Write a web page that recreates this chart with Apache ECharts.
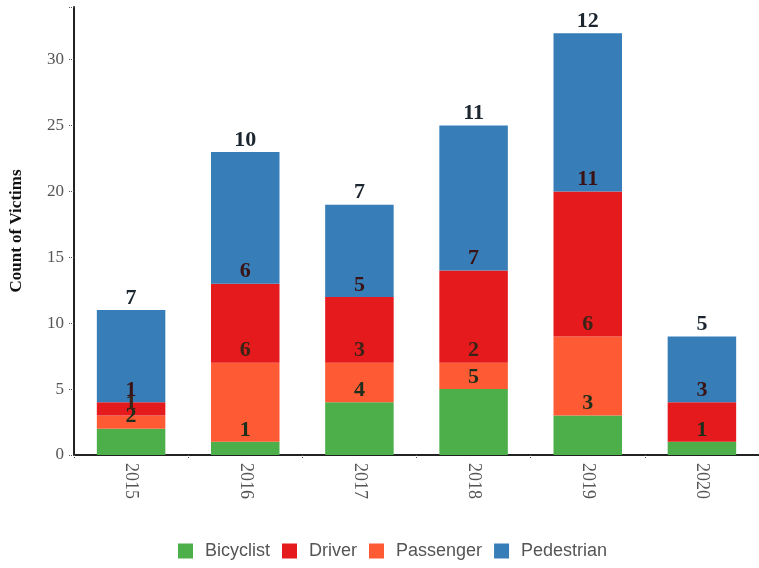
<!DOCTYPE html>
<html><head><meta charset="utf-8">
<script src="https://cdn.jsdelivr.net/npm/echarts@6/dist/echarts.min.js"></script>
<style>html,body{margin:0;padding:0;background:#fff}#c{width:759px;height:568px}</style>
</head><body><div id="c"></div>
<script>
const years = ['2015','2016','2017','2018','2019','2020'];
const bicyclist = [2, 1, 4, 5, 3, 1];
const passenger = [1, 6, 3, 2, 6, 0];
const driver = [1, 6, 5, 7, 11, 3];
const pedestrian = [7, 10, 7, 11, 12, 5];
const yTicks = [0, 5, 10, 15, 20, 25, 30];

const colors = {Bicyclist:'#4daf4a', Driver:'#e41a1c', Passenger:'#fe5a34', Pedestrian:'#377eb8'};
const labelColors = {Bicyclist:'#1c2e1c', Driver:'#3a1414', Passenger:'#3a2418', Pedestrian:'#1c2630'};

function mk(name, data){
  return {
    name, type:'bar', stack:'t', data, barWidth:'60%',
    itemStyle:{color:colors[name]},
    label:{show:true, position:'top', distance:1,
      formatter:p=>p.value===0?'':String(p.value),
      fontFamily:'Liberation Serif', fontWeight:'bold', fontSize:22,
      color:labelColors[name]}
  };
}

const chart = echarts.init(document.getElementById('c'));
chart.setOption({
  animation:false,
  grid:{left:74, right:0, top:7, bottom:113},
  legend:{
    bottom:3, left:173, itemWidth:15, itemHeight:15, itemGap:12,
    icon:'rect',
    data:['Bicyclist','Driver','Passenger','Pedestrian'],
    textStyle:{fontFamily:'Liberation Sans', fontSize:18, color:'#555', padding:[0,0,0,7]}
  },
  xAxis:{
    type:'category', data:years,
    axisLine:{lineStyle:{color:'#222', width:2}},
    axisTick:{show:true, length:3, lineStyle:{color:'#555', type:'dotted'}},
    axisLabel:{rotate:-90, margin:8, fontFamily:'Liberation Serif', fontSize:18, color:'#555'}
  },
  yAxis:{
    type:'value', min:0, max:34, interval:5,
    name:'Count of Victims', nameLocation:'middle', nameGap:49, nameRotate:90,
    nameTextStyle:{fontFamily:'Liberation Serif', fontWeight:'bold', fontSize:17, color:'#111'},
    axisLine:{show:true, lineStyle:{color:'#222', width:2}},
    axisTick:{show:true, length:5, lineStyle:{color:'#555', type:'dotted'}},
    axisLabel:{margin:10, fontFamily:'Liberation Serif', fontSize:17, color:'#555',
      formatter:v=>yTicks.includes(v)?String(v):''},
    splitLine:{show:false}
  },
  series:[mk('Bicyclist',bicyclist), mk('Passenger',passenger), mk('Driver',driver), mk('Pedestrian',pedestrian)]
});
</script></body></html>
